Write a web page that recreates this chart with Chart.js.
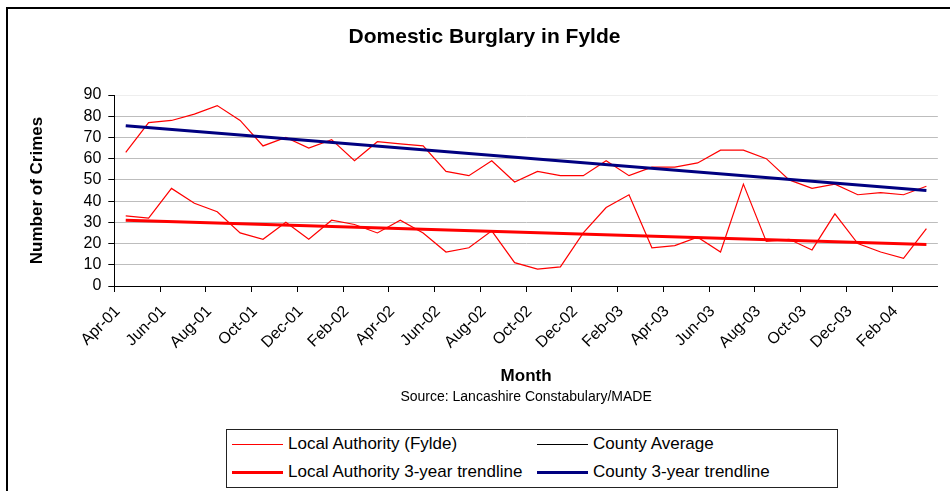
<!DOCTYPE html>
<html>
<head>
<meta charset="utf-8">
<script src="https://cdn.jsdelivr.net/npm/chart.js@4.4.1/dist/chart.umd.min.js"></script>
<style>
  html, body { margin: 0; padding: 0; background: #fff; overflow: hidden; }
  body { width: 950px; height: 491px; position: relative; font-family: "Liberation Sans", Arial, sans-serif; }
  #frame { position: absolute; left: 6px; top: 7px; width: 1000px; height: 600px;
           border-left: 2px solid #000; border-top: 2px solid #000; box-sizing: border-box; }
  #wrap { position: absolute; left: 0; top: 0; width: 950px; height: 408px; }
  #legend { position: absolute; left: 226px; top: 429px; width: 612px; height: 59px;
            border: 1px solid #222; box-sizing: border-box; background: #fff; }
  .item { position: absolute; height: 20px; display: flex; align-items: center; font-size: 17px; color: #000; white-space: nowrap; }
  .swatch { width: 51px; margin-right: 5px; }
</style>
</head>
<body>
<div id="frame"></div>
<div id="wrap"><canvas id="c"></canvas></div>
<div id="legend"></div>
<script>
// ---- data ----
const months = ['Apr-01','May-01','Jun-01','Jul-01','Aug-01','Sep-01','Oct-01','Nov-01','Dec-01','Jan-02','Feb-02','Mar-02',
                'Apr-02','May-02','Jun-02','Jul-02','Aug-02','Sep-02','Oct-02','Nov-02','Dec-02','Jan-03','Feb-03','Mar-03',
                'Apr-03','May-03','Jun-03','Jul-03','Aug-03','Sep-03','Oct-03','Nov-03','Dec-03','Jan-04','Feb-04','Mar-04'];
const fyldeValues  = [33,32,46,39,35,25,22,30,22,31,29,25,31,25,16,18,26,11,8,9,25,37,43,18,19,23,16,48,21,22,17,34,20,16,13,27];
const countyValues = [63,77,78,81,85,78,66,70,65,69,59,68,67,66,54,52,59,49,54,52,52,59,52,56,56,58,64,64,60,50,46,48,43,44,43,47];
// trendline end values (first and last month)
const fyldeTrendEnds  = [31.0, 19.5];
const countyTrendEnds = [75.5, 45.0];
const yTicks = [0,10,20,30,40,50,60,70,80,90];

const seriesLabels = ['Local Authority (Fylde)', 'County Average', 'Local Authority 3-year trendline', 'County 3-year trendline'];
const lineColors   = ['#ff0000', '#ff0000', '#ff0000', '#000080'];
const legendColors = ['#ff0000', '#000000', '#ff0000', '#000080'];
const lineWidths   = [1.2, 1.2, 3, 3];

const FONT = '"Liberation Sans", Arial, sans-serif';

function ends(arr) {
  return [{x: months[0], y: arr[0]}, {x: months[months.length - 1], y: arr[1]}];
}

const datasets = [
  {label: seriesLabels[0], data: fyldeValues},
  {label: seriesLabels[1], data: countyValues},
  {label: seriesLabels[2], data: ends(fyldeTrendEnds)},
  {label: seriesLabels[3], data: ends(countyTrendEnds)}
].map((d, i) => Object.assign(d, {
  borderColor: lineColors[i], backgroundColor: lineColors[i], borderWidth: lineWidths[i],
  pointRadius: 0, pointHoverRadius: 0, tension: 0, fill: false, order: i < 2 ? 2 : 1
}));

new Chart(document.getElementById('c'), {
  type: 'line',
  data: { labels: months, datasets },
  options: {
    responsive: true, maintainAspectRatio: false, animation: false,
    layout: { padding: { left: 20, right: 1, top: 0, bottom: 0 } },
    plugins: {
      legend: { display: false },
      tooltip: { enabled: false },
      title: { display: true, text: 'Domestic Burglary in Fylde', color: '#000',
               font: { family: FONT, size: 21, weight: 'bold' }, padding: { top: 25, bottom: 44.8 } },
      subtitle: { display: true, position: 'bottom', fullSize: false, text: 'Source: Lancashire Constabulary/MADE', color: '#000',
                  font: { family: FONT, size: 14 }, padding: { top: 2, bottom: 2.2 } }
    },
    scales: {
      x: {
        type: 'category', offset: true,
        grid: { offset: true, drawOnChartArea: false, drawTicks: true, tickLength: 6,
                tickColor: (ctx) => (ctx.index % 2 === 0 ? '#000' : 'rgba(0,0,0,0)'), color: 'rgba(0,0,0,0)' },
        border: { display: true, color: '#000', width: 1 },
        ticks: { autoSkip: false, maxRotation: 45, minRotation: 45, color: '#000', padding: 10, labelOffset: -8,
                 font: { family: FONT, size: 16 },
                 callback: (v, i) => (i % 2 === 0 ? months[i] : '') },
        title: { display: true, text: 'Month', color: '#000', font: { family: FONT, size: 17, weight: 'bold' },
                 padding: { top: 0, bottom: 0 } },
        afterFit: (s) => { s.height = 101; }
      },
      y: {
        min: yTicks[0], max: yTicks[yTicks.length - 1],
        grid: { color: (ctx) => (ctx.tick && ctx.tick.value === 90 ? '#eeeeee' : '#bdbdbd'), lineWidth: 1,
                tickColor: '#000', tickLength: 6 },
        border: { display: true, color: '#000', width: 1 },
        ticks: { stepSize: 10, autoSkip: false, color: '#000', padding: 7, font: { family: FONT, size: 16 } },
        title: { display: true, text: 'Number of Crimes', color: '#000', font: { family: FONT, size: 17, weight: 'bold' },
                 padding: { top: 7, bottom: 0 } },
        afterFit: (s) => { s.width = 94.3; }
      }
    }
  }
});

// HTML legend built from the series definitions
const legend = document.getElementById('legend');
const pos = [[5, 4], [310, 4], [5, 32], [310, 32]];
seriesLabels.forEach((lab, i) => {
  const it = document.createElement('div');
  it.className = 'item';
  it.style.left = pos[i][0] + 'px';
  it.style.top = pos[i][1] + 'px';
  const sw = document.createElement('div');
  sw.className = 'swatch';
  sw.style.height = (lineWidths[i] > 2 ? 3 : 1) + 'px';
  sw.style.background = legendColors[i];
  const tx = document.createElement('span');
  tx.textContent = lab;
  it.appendChild(sw); it.appendChild(tx);
  legend.appendChild(it);
});
</script>
</body>
</html>
